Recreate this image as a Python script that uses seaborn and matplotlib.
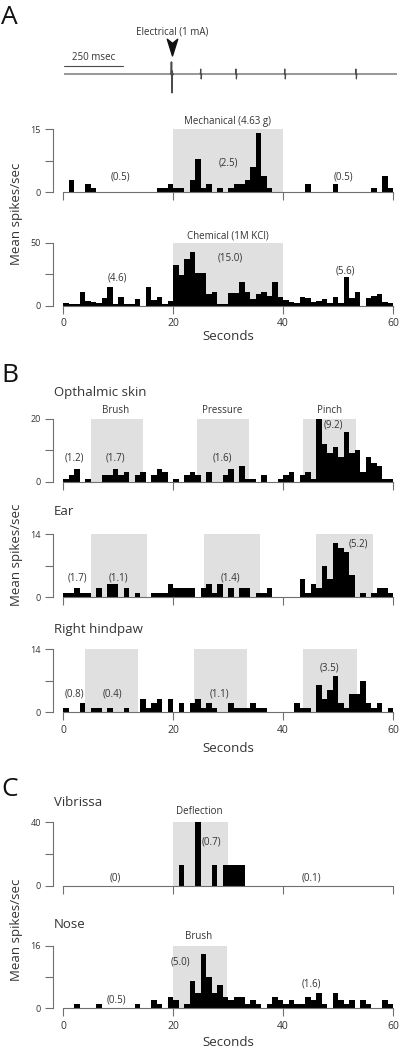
import numpy as np
import pandas as pd
import seaborn as sns
import matplotlib.pyplot as plt
from matplotlib.path import Path

# ---- data: mean spikes/sec in 1 s bins over 60 s ----
mechanical = [0, 3, 0, 0, 2, 1, 0, 0, 0, 0,
              0, 0, 0, 0, 0, 0, 0, 1, 1, 2,
              1, 1, 0, 3, 8, 1, 2, 0, 1, 0,
              1, 2, 2, 3, 6, 14, 4, 1, 0, 0,
              0, 0, 0, 0, 2, 0, 0, 0, 0, 2,
              0, 0, 0, 0, 0, 0, 1, 0, 4, 1]
chemical = [2, 1, 1, 11, 4, 3, 2, 6, 15, 1,
            7, 1, 1, 5, 0, 15, 4.5, 7, 1, 4,
            32, 24, 37, 43, 26, 26, 9, 10.5, 1.6, 1,
            10, 10, 19, 11, 5, 9, 11, 8, 19, 7,
            4.5, 3, 2, 7, 6, 3, 4, 5, 2, 7,
            2.5, 23, 6, 11, 0, 6, 8, 9, 3, 2]
opthalmic = [1, 2, 4, 0, 1, 0, 0, 2, 2, 4,
             2, 3, 0, 2, 3, 0, 2, 4, 3, 0,
             1, 0, 2, 3, 2, 0, 3, 0, 0, 2,
             4, 0, 5, 1, 1, 0, 2, 0, 0, 1,
             2, 3, 0, 2, 3, 1, 20, 12, 9, 11,
             8, 16, 9, 10, 3, 8, 6, 5, 1, 1]
ear = [1, 1, 2, 1, 1, 0, 2, 0, 3, 3,
       0, 2, 0, 1, 0, 0, 1, 1, 1, 3,
       2, 2, 2, 2, 0, 2, 3, 1, 3, 0,
       2, 0, 2, 2, 0, 1, 1, 2, 0, 0,
       0, 0, 0, 4, 1, 3, 2, 7, 4, 12,
       11, 10, 5, 0, 1, 0, 1, 2, 2, 1]
hindpaw = [1, 0, 0, 2, 0, 1, 1, 0, 1, 0,
           0, 1, 0, 0, 3, 1, 2, 3, 0, 3,
           0, 2, 0, 2, 3, 1, 2, 1, 0, 0,
           2, 1, 1, 1, 2, 1, 1, 0, 0, 0,
           0, 0, 2, 1, 1, 0, 6, 3, 5, 8,
           2, 1, 4, 4, 7, 2, 1, 2, 0, 1]
vibrissa = [0] * 21 + [13.3, 0, 0, 40, 0, 0, 13.3, 0,
                       13.3, 13.3, 13.3, 13.3] + [0] * 27
nose = [0, 0, 1, 0, 0, 0, 1, 0, 0, 0,
        0, 0, 0, 1, 0, 0, 2, 1, 0, 3,
        2, 0, 1, 7, 4, 14, 8, 4, 6, 3,
        2, 3, 3, 1, 2, 1, 0, 1, 3, 2,
        1, 2, 1, 1, 3, 2, 4, 1, 0, 4,
        2, 1, 2, 0, 2, 1, 0, 0, 2, 1]

seconds = np.arange(60) + 0.5

# stimulus windows (s)
mech_win = [(20, 40)]
chem_win = [(20, 40)]
opth_win = [(5, 14.6), (24.3, 33.9), (43.7, 53.2)]
ear_win = [(5, 15.2), (25.6, 35.8), (46, 56.4)]
hind_win = [(4, 13.7), (23.8, 33.5), (43.6, 53.4)]
vib_win = [(20, 30)]
nose_win = [(20, 29.8)]

# single-unit trace (msec)
artifact_ms = 458
artifact_dt = [-5, -4, -3, -2, -1, 0, 1, 3, 6]
artifact_v = [0, 12, -2, 12, -19, -3, 3, -1, 0]
spike_ms = [580, 729, 936, 1237]
spike_dt = [-3, -1, 1, 3]
spike_v = [0, 5, -5, 0]
trace_end_ms = 1410

# ---- style ----
sns.set_theme(style="ticks")
plt.rcParams['font.family'] = ['Open Sans', 'DejaVu Sans']
TXT = '#333333'
AXC = '#707070'
SHADE = '#e0e0e0'
W, H = 400, 1048

fig = plt.figure(figsize=(W / 100, H / 100), dpi=100)


def place(l, t, r, b):
    return fig.add_axes([l / W, 1 - b / H, (r - l) / W, (b - t) / H])


def hist_panel(box, vals, ymax, wins, xlabels=False):
    ax = place(*box)
    for a, b in wins:
        ax.axvspan(a, b, color=SHADE, lw=0, zorder=0)
    df = pd.DataFrame({'t': seconds, 'rate': vals})
    sns.histplot(data=df, x='t', weights='rate', bins=60, binrange=(0, 60),
                 color='black', alpha=1, linewidth=0, ax=ax, zorder=2)
    ax.set_xlim(0, 60)
    ax.set_ylim(0, ymax)
    ax.set_xticks([0, 20, 40, 60])
    ax.set_yticks([0, ymax / 2, ymax])
    ax.set_yticklabels(['0', '', f'{ymax:g}'])
    if not xlabels:
        ax.set_xticklabels([])
    ax.set_xlabel('')
    ax.set_ylabel('')
    ax.patch.set_visible(False)
    sns.despine(ax=ax)
    ax.spines['left'].set_position(('outward', 7))
    ax.spines['left'].set_bounds(0, ymax)
    ax.spines['bottom'].set_bounds(0, 60)
    for s in ('left', 'bottom'):
        ax.spines[s].set_color(AXC)
        ax.spines[s].set_linewidth(0.8)
    ax.tick_params(axis='both', colors=AXC, width=0.8, length=6,
                   labelcolor=TXT, pad=3)
    ax.tick_params(axis='y', labelsize=6.5)
    ax.tick_params(axis='x', labelsize=7.5)
    return ax


def note(ax, x, y, s, size=7):
    ax.text(x, y, s, ha='center', va='center', fontsize=size, color=TXT,
            clip_on=False, zorder=3)


# ---- A: trace ----
ax = place(64, 20, 397, 100)
t, v = [0], [0]
for dt, val in zip(artifact_dt, artifact_v):
    t.append(artifact_ms + dt)
    v.append(val)
for sp in spike_ms:
    for dt, val in zip(spike_dt, spike_v):
        t.append(sp + dt)
        v.append(val)
t.append(trace_end_ms)
v.append(0)
sns.lineplot(x=t, y=v, ax=ax, color='#4a4a4a', lw=0.8, sort=False,
             estimator=None)
ax.set_xlim(0, trace_end_ms)
ax.set_ylim(-26, 54)
ax.axis('off')
ax.plot([0, 250], [8, 8], color='#4a4a4a', lw=0.8)
ax.text(125, 17, '250 msec', ha='center', va='center', fontsize=7, color=TXT)
arrow = Path([(0, -1), (-0.5, 0.6), (0, 0.2), (0.5, 0.6), (0, -1)],
             [Path.MOVETO, Path.LINETO, Path.LINETO, Path.LINETO, Path.CLOSEPOLY])
ax.plot(artifact_ms, 29.5, marker=arrow, ms=15, color='#111111', lw=0)
ax.text(artifact_ms, 42, 'Electrical (1 mA)', ha='center', va='center',
        fontsize=7, color=TXT)

ax = hist_panel((63, 129.3, 393, 192.3), mechanical, 15, mech_win)
note(ax, 30, 16.9, 'Mechanical (4.63 g)')
note(ax, 10.4, 3.7, '(0.5)')
note(ax, 30, 6.9, '(2.5)')
note(ax, 51, 3.7, '(0.5)')

ax = hist_panel((63, 242.7, 393, 305.7), chemical, 50, chem_win, True)
note(ax, 30, 55.5, 'Chemical (1M KCl)')
note(ax, 9.8, 21.7, '(4.6)')
note(ax, 30.4, 37.6, '(15.0)')
note(ax, 51.3, 27.8, '(5.6)')

# ---- B ----
ax = hist_panel((63, 419, 393, 481.7), opthalmic, 20, opth_win)
note(ax, 9.5, 22.6, 'Brush')
note(ax, 29, 22.6, 'Pressure')
note(ax, 48.5, 22.6, 'Pinch')
note(ax, 2, 7.7, '(1.2)')
note(ax, 9.5, 7.7, '(1.7)')
note(ax, 29, 7.7, '(1.6)')
note(ax, 49.2, 18, '(9.2)')

ax = hist_panel((63, 534.3, 393, 597.3), ear, 14, ear_win)
note(ax, 2.7, 4.4, '(1.7)')
note(ax, 10, 4.4, '(1.1)')
note(ax, 30.4, 4.4, '(1.4)')
note(ax, 53.7, 11.9, '(5.2)')

ax = hist_panel((63, 649.3, 393, 712.3), hindpaw, 14, hind_win, True)
note(ax, 2, 4.1, '(0.8)')
note(ax, 9, 4.1, '(0.4)')
note(ax, 28.4, 4.1, '(1.1)')
note(ax, 48.5, 9.8, '(3.5)')

# ---- C ----
ax = hist_panel((63, 822.3, 393, 885.7), vibrissa, 40, vib_win)
note(ax, 24.7, 46.7, 'Deflection')
note(ax, 27, 27.8, '(0.7)')
note(ax, 9.5, 4.6, '(0)')
note(ax, 45.2, 4.6, '(0.1)')

ax = hist_panel((63, 945.7, 393, 1008.3), nose, 16, nose_win, True)
note(ax, 24.6, 18.3, 'Brush')
note(ax, 9.8, 2.1, '(0.5)')
note(ax, 21.3, 11.9, '(5.0)')
note(ax, 45.2, 6.1, '(1.6)')

# ---- figure text ----
for letter, y in [('A', 18), ('B', 376), ('C', 790)]:
    fig.text(1 / W, 1 - y / H, letter, fontsize=19, color='#111111',
             ha='left', va='center')
for title, y in [('Opthalmic skin', 392), ('Ear', 512), ('Right hindpaw', 629),
                 ('Vibrissa', 802), ('Nose', 925)]:
    fig.text(54 / W, 1 - y / H, title, fontsize=9.5, color=TXT,
             ha='left', va='center')
for y in [214, 555, 930]:
    fig.text(17 / W, 1 - y / H, 'Mean spikes/sec', fontsize=9.5, color=TXT,
             rotation=90, ha='center', va='center')
for y in [337, 748, 1043]:
    fig.text(228 / W, 1 - y / H, 'Seconds', fontsize=9.5, color=TXT,
             ha='center', va='center')

fig.savefig('out.png', dpi=100)
